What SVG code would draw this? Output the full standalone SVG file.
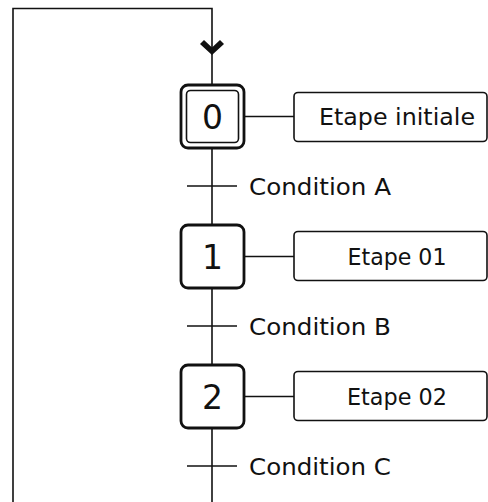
<svg xmlns="http://www.w3.org/2000/svg" width="488" height="502" viewBox="0 0 488 502">
<style>
.ln{stroke:#111;stroke-width:1.6;fill:none}
.step{fill:#fff;stroke:#111;stroke-width:2.8}
.inner{fill:#fff;stroke:#111;stroke-width:1.6}
.lab{fill:#fff;stroke:#111;stroke-width:1.6}
.num{font-family:"DejaVu Sans","Liberation Sans",sans-serif;font-size:33px;fill:#111;text-anchor:middle}
.txt{font-family:"DejaVu Sans","Liberation Sans",sans-serif;font-size:23px;fill:#111}
</style>
<rect width="488" height="502" fill="#fff"/>
<g id="connectors">
<polyline class="ln" points="13,502 13,8.5 212,8.5 212,85"/>
<line class="ln" x1="212" y1="148" x2="212" y2="225"/>
<line class="ln" x1="212" y1="288" x2="212" y2="365"/>
<line class="ln" x1="212" y1="428" x2="212" y2="502"/>
<polygon points="200,44 204,40 212,47.5 220,40 224,44 212,55" fill="#111"/>
<line class="ln" x1="244" y1="116.5" x2="294" y2="116.5"/>
<line class="ln" x1="244" y1="256.5" x2="294" y2="256.5"/>
<line class="ln" x1="244" y1="396.5" x2="294" y2="396.5"/>
</g>
<g id="t-A">
<line class="ln" x1="187" y1="186" x2="237" y2="186"/>
<text class="txt" x="249" y="195" textLength="142" lengthAdjust="spacingAndGlyphs">Condition A</text>
</g>
<g id="t-B">
<line class="ln" x1="187" y1="326" x2="237" y2="326"/>
<text class="txt" x="249" y="335" textLength="142" lengthAdjust="spacingAndGlyphs">Condition B</text>
</g>
<g id="t-C">
<line class="ln" x1="187" y1="466" x2="237" y2="466"/>
<text class="txt" x="249" y="475" textLength="142" lengthAdjust="spacingAndGlyphs">Condition C</text>
</g>
<g id="step0">
<rect class="step" x="181" y="85" width="63" height="63" rx="7"/>
<rect class="inner" x="186.5" y="90.5" width="52" height="52" rx="4"/>
<text class="num" x="212.5" y="128.5">0</text>
</g>
<g id="label0">
<rect class="lab" x="294" y="92.5" width="193" height="49" rx="4"/>
<text class="txt" x="397" y="125" text-anchor="middle" textLength="156" lengthAdjust="spacingAndGlyphs">Etape initiale</text>
</g>
<g id="step1">
<rect class="step" x="181" y="225" width="63" height="63" rx="7"/>
<text class="num" x="212.5" y="268.5">1</text>
</g>
<g id="label1">
<rect class="lab" x="294" y="231.5" width="193" height="49" rx="4"/>
<text class="txt" x="397" y="265" text-anchor="middle" textLength="99" lengthAdjust="spacingAndGlyphs">Etape 01</text>
</g>
<g id="step2">
<rect class="step" x="181" y="365" width="63" height="63" rx="7"/>
<text class="num" x="212.5" y="408.5">2</text>
</g>
<g id="label2">
<rect class="lab" x="294" y="371.5" width="193" height="49" rx="4"/>
<text class="txt" x="397" y="405" text-anchor="middle" textLength="100" lengthAdjust="spacingAndGlyphs">Etape 02</text>
</g>
</svg>
